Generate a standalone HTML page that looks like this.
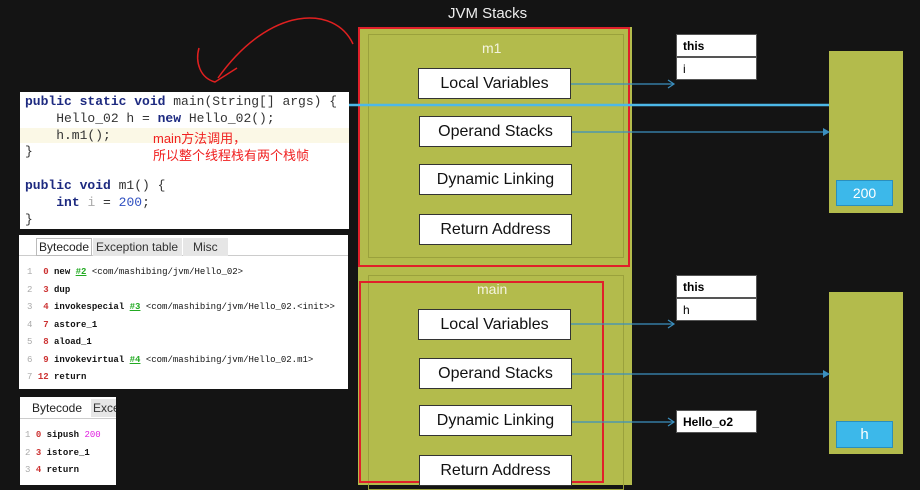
<!DOCTYPE html>
<html><head><meta charset="utf-8"><style>
*{margin:0;padding:0;box-sizing:border-box}
body{width:920px;height:485px;overflow:hidden;background:#141414;position:relative;font-family:"Liberation Sans","Noto Sans CJK SC",sans-serif}
.a{position:absolute}
.box{position:absolute;background:#fff;border:1.5px solid #333;color:#111;font-size:16px;display:flex;align-items:center;justify-content:center}
.code{font-family:"Liberation Mono",monospace;font-size:13px;line-height:16.8px;color:#333}
.kw{color:#1d2a80;font-weight:bold}
.bc{font-family:"Liberation Mono",monospace;font-size:9px;line-height:17.5px;font-weight:bold;color:#111;white-space:pre}
.n{color:#c33}.g{color:#2a2;text-decoration:underline}.ln{color:#aaa;font-weight:normal}
.lbl{position:absolute;background:#fff;border:1px solid #555;font-size:12px;font-weight:bold;padding-left:6px;display:flex;align-items:center}
</style></head><body>
<div class="a" style="left:448px;top:5px;color:#eee;font-size:15px">JVM Stacks</div>
<div class="a" style="left:358px;top:27px;width:274px;height:458px;background:#b3bb4c"></div>
<div class="a" style="left:368px;top:34px;width:256px;height:224px;border:1px solid #9aa13c"></div>
<div class="a" style="left:368px;top:275px;width:256px;height:215px;border:1px solid #9aa13c"></div>
<div class="a" style="left:358px;top:27px;width:272px;height:240px;border:2px solid #e0202a"></div>
<div class="a" style="left:359px;top:281px;width:245px;height:202px;border:2px solid #e0202a"></div>
<div class="a" style="left:482px;top:40px;color:#f4f4e0;font-size:14px">m1</div>
<div class="a" style="left:477px;top:281px;color:#f4f4e0;font-size:14px">main</div>
<div class="box" style="left:418px;top:68px;width:153px;height:31px">Local Variables</div>
<div class="box" style="left:419px;top:116px;width:153px;height:31px">Operand Stacks</div>
<div class="box" style="left:419px;top:164px;width:153px;height:31px">Dynamic Linking</div>
<div class="box" style="left:419px;top:214px;width:153px;height:31px">Return Address</div>
<div class="box" style="left:418px;top:309px;width:153px;height:31px">Local Variables</div>
<div class="box" style="left:419px;top:358px;width:153px;height:31px">Operand Stacks</div>
<div class="box" style="left:419px;top:405px;width:153px;height:31px">Dynamic Linking</div>
<div class="box" style="left:419px;top:455px;width:153px;height:31px">Return Address</div>
<div class="lbl" style="left:676px;top:34px;width:81px;height:23px">this</div>
<div class="lbl" style="left:676px;top:57px;width:81px;height:23px;font-weight:normal">i</div>
<div class="lbl" style="left:676px;top:275px;width:81px;height:23px">this</div>
<div class="lbl" style="left:676px;top:298px;width:81px;height:23px;font-weight:normal">h</div>
<div class="lbl" style="left:676px;top:410px;width:81px;height:23px">Hello_o2</div>
<div class="a" style="left:829px;top:51px;width:74px;height:162px;background:#b3bb4c"></div>
<div class="a" style="left:836px;top:180px;width:57px;height:26px;background:#3cb8ea;border:1px solid #2a8fbd;color:#fff;font-size:14px;text-align:center;line-height:24px">200</div>
<div class="a" style="left:829px;top:292px;width:74px;height:162px;background:#b3bb4c"></div>
<div class="a" style="left:836px;top:421px;width:57px;height:27px;background:#3cb8ea;border:1px solid #2a8fbd;color:#fff;font-size:15px;text-align:center;line-height:25px">h</div>
<svg class="a" style="left:0;top:0" width="920" height="485">
<g stroke="#3a8fbf" stroke-width="1.2" fill="none">
<line x1="571" y1="84" x2="673" y2="84"/><line x1="572" y1="132" x2="826" y2="132"/>
<line x1="571" y1="324" x2="673" y2="324"/><line x1="572" y1="374" x2="826" y2="374"/>
<line x1="572" y1="422" x2="673" y2="422"/>
<polyline points="668,80 674,84 668,88"/><polyline points="668,320 674,324 668,328"/><polyline points="668,418 674,422 668,426"/>
</g>
<polygon points="823,128 830,132 823,136" fill="#3a8fbf"/><polygon points="823,370 830,374 823,378" fill="#3a8fbf"/>
<line x1="345" y1="105" x2="829" y2="105" stroke="#4cb8e8" stroke-width="2.5"/>
<path d="M353,44 C335,5 270,5 218,78" stroke="#e02020" stroke-width="1.5" fill="none"/>
<path d="M199,48 C195,62 200,78 215,82 L237,68" stroke="#e02020" stroke-width="1.5" fill="none"/>
</svg>
<div class="a code" style="left:20px;top:92px;width:329px;height:137px;background:#fff;padding:2px 0 0 5px">
<div class="a" style="left:0;top:36px;width:329px;height:15px;background:#fbf8e6"></div>
<div style="position:relative"><span class="kw">public static void</span> main(String[] args) {<br>&nbsp;&nbsp;&nbsp;&nbsp;Hello_02 h = <span class="kw">new</span> Hello_02();<br>&nbsp;&nbsp;&nbsp;&nbsp;h.m1();<br>}<br><br><span class="kw">public void</span> m1() {<br>&nbsp;&nbsp;&nbsp;&nbsp;<span class="kw">int</span> <span style="color:#aaa">i</span> = <span style="color:#3050c0">200</span>;<br>}</div>
<div class="a" style="left:133px;top:38px;color:#f02020;font-family:'Liberation Sans','Noto Sans CJK SC',sans-serif;font-size:13px;line-height:17px">main方法调用，<br>所以整个线程栈有两个栈帧</div>
</div>
<div class="a" style="left:19px;top:235px;width:329px;height:154px;background:#fff;overflow:hidden">
<div class="a" style="left:0;top:2px;width:329px;height:19px;border-bottom:1px solid #ccc"></div>
<div class="a" style="left:17px;top:3px;font-size:12px;color:#222;border:1px solid #bbb;padding:1px 2px;background:#fff">Bytecode</div>
<div class="a" style="left:74px;top:3px;font-size:12px;color:#333;background:#e6e6e6;padding:2px 3px;width:89px">Exception table</div>
<div class="a" style="left:164px;top:3px;font-size:12px;color:#333;background:#e6e6e6;padding:2px 10px;width:45px">Misc</div>
<div class="a bc" style="left:8px;top:29px"><span class="ln">1</span>  <span class="n">0</span> new <span class="g">#2</span> <span style="font-weight:normal">&lt;com/mashibing/jvm/Hello_02&gt;</span>
<span class="ln">2</span>  <span class="n">3</span> dup
<span class="ln">3</span>  <span class="n">4</span> invokespecial <span class="g">#3</span> <span style="font-weight:normal">&lt;com/mashibing/jvm/Hello_02.&lt;init&gt;&gt;</span>
<span class="ln">4</span>  <span class="n">7</span> astore_1
<span class="ln">5</span>  <span class="n">8</span> aload_1
<span class="ln">6</span>  <span class="n">9</span> invokevirtual <span class="g">#4</span> <span style="font-weight:normal">&lt;com/mashibing/jvm/Hello_02.m1&gt;</span>
<span class="ln">7</span> <span class="n">12</span> return</div>
</div>
<div class="a" style="left:20px;top:397px;width:96px;height:88px;background:#fff;overflow:hidden">
<div class="a" style="left:0;top:2px;width:96px;height:20px;border-bottom:1px solid #ccc"></div>
<div class="a" style="left:12px;top:4px;font-size:12px;color:#222">Bytecode</div>
<div class="a" style="left:71px;top:2px;font-size:12px;color:#333;background:#e6e6e6;padding:2px 2px;width:40px">Exce</div>
<div class="a bc" style="left:5px;top:30px"><span class="ln">1</span> <span class="n">0</span> sipush <span style="color:#e020e0;font-weight:normal">200</span>
<span class="ln">2</span> <span class="n">3</span> istore_1
<span class="ln">3</span> <span class="n">4</span> return</div>
</div>
</body></html>
